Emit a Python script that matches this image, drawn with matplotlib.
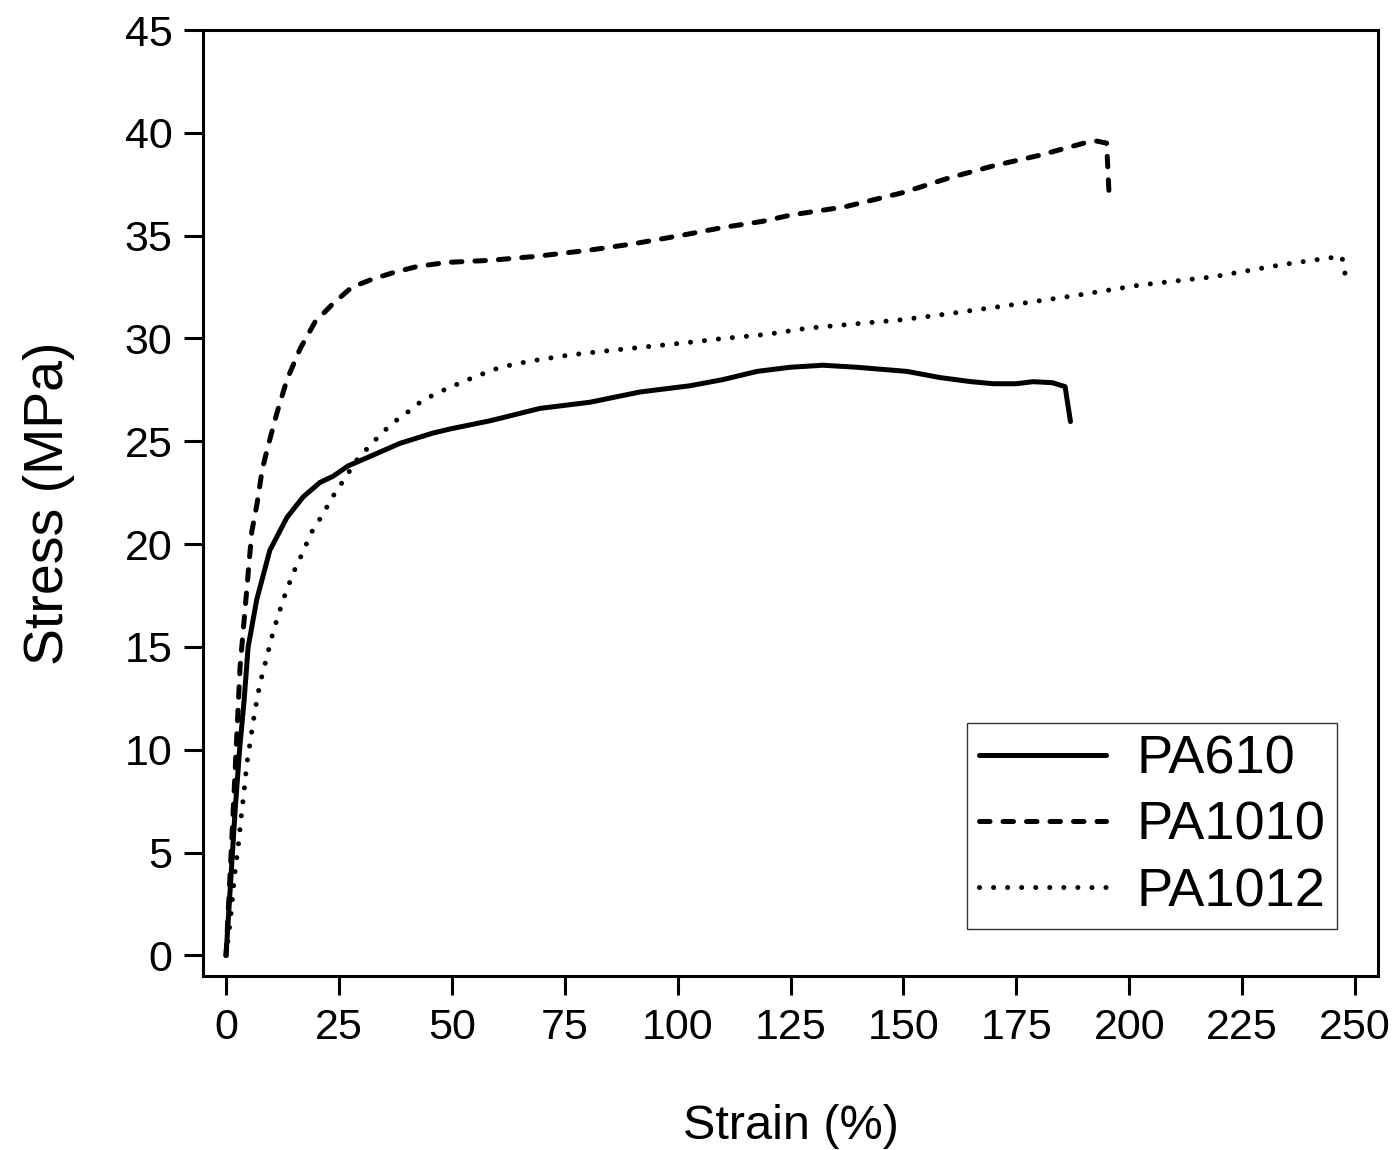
import matplotlib
matplotlib.use("Agg")
import matplotlib.pyplot as plt

plt.rcParams["font.family"] = ["Liberation Sans", "DejaVu Sans"]

# PA610 (solid)
pa610_strain = [0, 1.0, 2.0, 3.0, 4.0, 4.9, 6.8, 9.7, 13.5, 17.1, 20.8, 23.7, 27.0,
                31.2, 38.5, 45.8, 49.6, 58.5, 69.5, 80.6, 91.7, 102.7, 110.0,
                117.6, 124.9, 132.2, 139.7, 150.8, 158.1, 165, 170, 175, 178.7,
                183, 185.8, 187.0]
pa610_stress = [0, 3.5, 7.0, 10.0, 12.4, 15.0, 17.3, 19.7, 21.3, 22.3, 23.0, 23.3,
                23.8, 24.2, 24.9, 25.4, 25.6, 26.0, 26.6, 26.9, 27.4, 27.7, 28.0,
                28.4, 28.6, 28.7, 28.6, 28.4, 28.1, 27.9, 27.8, 27.8, 27.9,
                27.85, 27.66, 25.96]

# PA1010 (dashed)
pa1010_strain = [0, 0.8, 1.8, 3.1, 4.4, 5.7, 6.9, 8.0, 9.1, 11.3, 13.5, 16.4, 19.7,
                 23.7, 27.9, 32.6, 37.0, 42.3, 48.9, 58.5, 68.9, 80.6, 90.1,
                 100.5, 110.1, 118.9, 125, 137, 150, 160, 170, 180, 190, 192.8,
                 195.0, 195.5]
pa1010_stress = [0, 3.5, 8.0, 14.0, 17.3, 20.6, 22.0, 23.6, 24.6, 26.4, 28.0, 29.5,
                 30.8, 31.7, 32.5, 32.9, 33.2, 33.5, 33.7, 33.8, 34.0, 34.3, 34.6,
                 35.0, 35.4, 35.7, 36.0, 36.4, 37.1, 37.8, 38.4, 38.9, 39.5, 39.6,
                 39.5, 37.2]

# PA1012 (dotted)
pa1012_strain = [0, 1.0, 2.0, 2.7, 3.3, 4.0, 4.6, 5.5, 6.4, 7.5, 8.9, 10.4, 11.8,
                 13.3, 15.1, 17.0, 19.0, 21.3, 23.6, 26.0, 29.0, 31.5, 34.5, 37.0,
                 40.1, 43.0, 46.3, 49.3, 54.7, 60.7, 67.3, 76.2, 84.4, 93.2, 102.1,
                 110.1, 119.8, 128.7, 138.8, 149.2, 156.6, 172.9, 188.4, 202.4,
                 218.6, 234.1, 243.8, 247.1, 248.0]
pa1012_stress = [0, 1.8, 4.1, 5.3, 6.6, 8.0, 9.3, 10.6, 11.9, 13.2, 14.4, 15.7,
                 16.7, 17.7, 18.7, 19.6, 20.6, 21.4, 22.3, 23.1, 24.1, 24.7, 25.4,
                 25.9, 26.4, 26.9, 27.3, 27.6, 28.1, 28.6, 28.9, 29.2, 29.4, 29.6,
                 29.8, 30.0, 30.2, 30.5, 30.7, 30.9, 31.1, 31.6, 32.1, 32.6, 33.0,
                 33.6, 33.9, 34.0, 32.9]

x_ticks = [0, 25, 50, 75, 100, 125, 150, 175, 200, 225, 250]
y_ticks = [0, 5, 10, 15, 20, 25, 30, 35, 40, 45]

fig = plt.figure(figsize=(13.99, 11.5), dpi=100)
ax = fig.add_axes([0.1451, 0.1513, 0.8399, 0.8226])

lw = 3.6
ax.plot(pa610_strain, pa610_stress, c="black", lw=lw, ls="-",
        solid_capstyle="round", solid_joinstyle="round", label="PA610")
ax.plot(pa1010_strain, pa1010_stress, c="black", lw=lw, ls=(0, (2.1, 2.6)),
        dash_capstyle="round", label="PA1010")
ax.plot(pa1012_strain, pa1012_stress, c="black", lw=lw, ls=(0, (0.01, 2.8)),
        dash_capstyle="round", label="PA1012")

ax.set_xlim(-5.1, 255.1)
ax.set_ylim(-1.0, 45)
ax.set_xticks(x_ticks)
ax.set_yticks(y_ticks)

for s in ax.spines.values():
    s.set_linewidth(2.2)
ax.tick_params(direction="out", length=14, width=2.2, labelsize=31)
ax.tick_params(axis="x", pad=9)
ax.tick_params(axis="y", pad=8)

ax.set_xlabel("Strain (%)", fontsize=35, labelpad=40)
ax.set_ylabel("Stress (MPa)", fontsize=40, labelpad=36)

leg = ax.legend(loc="lower right", bbox_to_anchor=(0.965, 0.0497), fontsize=39,
                frameon=True, fancybox=False, handlelength=2.35,
                handletextpad=0.55, borderpad=0.22, labelspacing=0.3,
                borderaxespad=0)
leg.get_frame().set_edgecolor("black")
leg.get_frame().set_linewidth(1.0)

fig.savefig("out.png", dpi=100)
